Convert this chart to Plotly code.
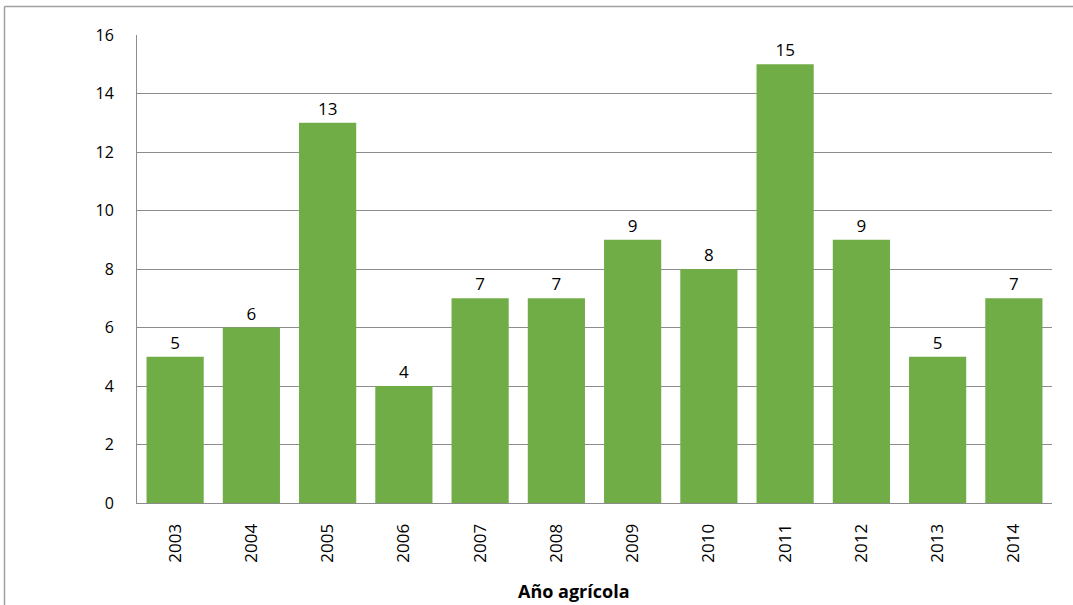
import plotly.graph_objects as go

years = ["2003", "2004", "2005", "2006", "2007", "2008",
         "2009", "2010", "2011", "2012", "2013", "2014"]
counts = [5, 6, 13, 4, 7, 7, 9, 8, 15, 9, 5, 7]
y_ticks = [0, 2, 4, 6, 8, 10, 12, 14, 16]

FONT = "Open Sans"
GRID = "#8c8c8c"

fig = go.Figure(
    go.Bar(
        x=years,
        y=counts,
        marker=dict(color="#70ad47", line=dict(width=0)),
        text=counts,
        textposition="outside",
        textfont=dict(family=FONT, size=17, color="#000000"),
        cliponaxis=False,
    )
)

L, R, T, B = 137, 21, 35, 102
W, H = 1073, 605
pw, ph = W - L - R, H - T - B

fig.update_layout(
    width=W,
    height=H,
    margin=dict(l=L, r=R, t=T, b=B, pad=0),
    paper_bgcolor="white",
    plot_bgcolor="white",
    bargap=0.25,
    showlegend=False,
    font=dict(family=FONT, color="#000000"),
)

fig.update_xaxes(
    type="category",
    tickangle=-90,
    tickfont=dict(family=FONT, size=17),
    showline=True,
    linecolor=GRID,
    linewidth=1,
    showgrid=False,
    ticks="",
    ticklabelstandoff=13,
)

fig.update_yaxes(
    range=[0, 16],
    tickvals=y_ticks,
    tickfont=dict(family=FONT, size=16),
    showline=True,
    linecolor=GRID,
    linewidth=1,
    showgrid=True,
    gridcolor=GRID,
    gridwidth=1,
    zeroline=False,
    ticks="",
    ticklabelstandoff=19,
)

# axis title
fig.add_annotation(
    text="<b>Año agrícola</b>",
    xref="paper", yref="paper",
    x=(574 - L) / pw, y=-(591 - (T + ph)) / ph,
    showarrow=False,
    font=dict(family=FONT, size=18, color="#000000"),
    xanchor="center", yanchor="middle",
)

# chart frame (left and top edges)
x0 = (4.5 - L) / pw
y_top = 1 + (T - 6.5) / ph
for sx0, sy0, sx1, sy1 in [(x0, -0.5, x0, y_top), (x0, y_top, 1.2, y_top)]:
    fig.add_shape(
        type="line", xref="paper", yref="paper",
        x0=sx0, y0=sy0, x1=sx1, y1=sy1,
        line=dict(color="#a0a0a0", width=1.5),
    )

fig.write_html("out.html")
